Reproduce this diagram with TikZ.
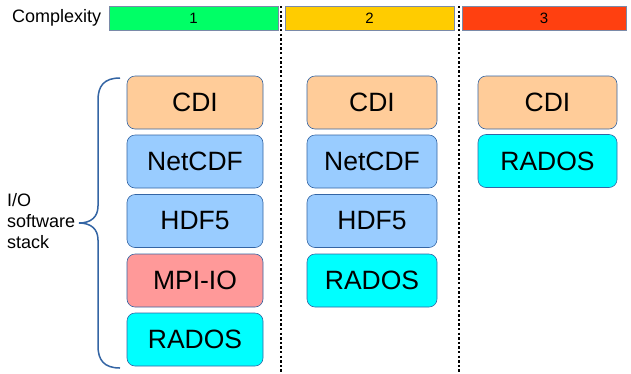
\documentclass[tikz,border=0pt]{standalone}
\usepackage{fontspec}
\setmainfont{Liberation Sans}
\definecolor{bgreen}{HTML}{00FF66}
\definecolor{byellow}{HTML}{FFCC00}
\definecolor{bred}{HTML}{FF4010}
\definecolor{peach}{HTML}{FFCC99}
\definecolor{lblue}{HTML}{99CCFF}
\definecolor{pink}{HTML}{FF9999}
\definecolor{cyanb}{HTML}{00FFFF}
\definecolor{edge}{HTML}{3465A4}
\definecolor{baredge}{HTML}{7A8AA8}
\begin{document}
\begin{tikzpicture}[x=1pt,y=-1pt,
  layer/.style={draw=edge,line width=0.6pt,rounded corners=8pt,minimum height=53pt,inner sep=0pt,font=\fontsize{26.5}{30}\selectfont},
  bar/.style={draw=baredge,line width=0.8pt,minimum height=24pt,inner sep=0pt,font=\fontsize{15}{17}\selectfont},
  sep/.style={line width=2pt,dash pattern=on 2.3pt off 2.3pt}]
\useasboundingbox (0,0) rectangle (631,373);
\fill[white] (0,0) rectangle (631,373);
% top row
\node[anchor=west,inner sep=0pt,font=\fontsize{18}{20}\selectfont] (cplx) at (12,18) {Complexity};
\node[bar,fill=bgreen,minimum width=169pt] (c1) at (193.5,18) {1};
\node[bar,fill=byellow,minimum width=169pt] (c2) at (369.5,18) {2};
\node[bar,fill=bred,minimum width=164pt] (c3) at (544,18) {3};
% separators
\draw[sep] (281,6) -- (281,373);
\draw[sep] (459,6) -- (459,373);
% column 1
\node[layer,fill=peach,minimum width=136pt] (a1) at (195,102.5) {CDI};
\node[layer,fill=lblue,minimum width=136pt] (a2) at (195,161.5) {NetCDF};
\node[layer,fill=lblue,minimum width=136pt] (a3) at (195,221) {HDF5};
\node[layer,fill=pink,minimum width=136pt] (a4) at (195,280.5) {MPI-IO};
\node[layer,fill=cyanb,minimum width=136pt] (a5) at (195,339.5) {RADOS};
% column 2
\node[layer,fill=peach,minimum width=130pt] (b1) at (372,102.5) {CDI};
\node[layer,fill=lblue,minimum width=130pt] (b2) at (372,161.5) {NetCDF};
\node[layer,fill=lblue,minimum width=130pt] (b3) at (372,221) {HDF5};
\node[layer,fill=cyanb,minimum width=130pt] (b4) at (372,280.5) {RADOS};
% column 3
\node[layer,fill=peach,minimum width=139pt] (d1) at (547.5,102.5) {CDI};
\node[layer,fill=cyanb,minimum width=139pt] (d2) at (547.5,161) {RADOS};
% brace
\draw[edge,line width=1.5pt] (120,78) .. controls (104,78) and (98,86) .. (98,100)
  -- (98,206) .. controls (98,217) and (91,223) .. (79,223)
  .. controls (91,223) and (98,229) .. (98,240)
  -- (98,346) .. controls (98,360) and (104,368) .. (120,368);
\node[anchor=west,align=left,inner sep=0pt,font=\fontsize{18}{21}\selectfont] (lbl) at (7,221) {I/O\\software\\stack};
\end{tikzpicture}
\end{document}
